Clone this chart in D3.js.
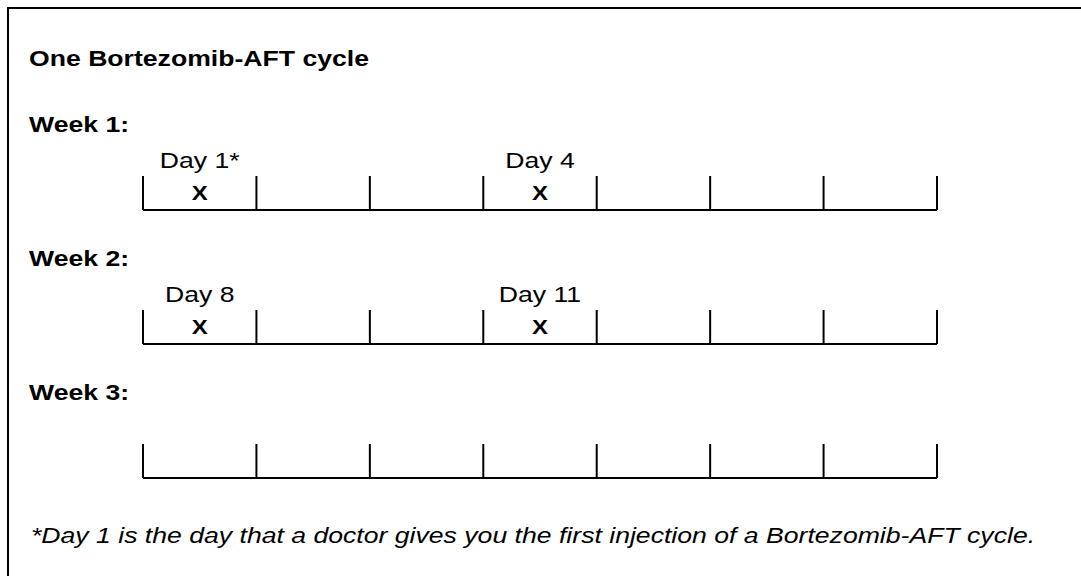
<!DOCTYPE html>
<html>
<head>
<meta charset="utf-8">
<script src="https://cdn.jsdelivr.net/npm/d3@7"></script>
<style>
  html, body { margin: 0; padding: 0; background: #fff; }
  svg { display: block; }
  text { font-family: "Liberation Sans", Arial, sans-serif; fill: #000; }
</style>
</head>
<body>
<svg id="chart" width="1081" height="576"></svg>
<script>
// ---- data ----
const title = "One Bortezomib-AFT cycle";
const weeks = ["Week 1:", "Week 2:", "Week 3:"];
const weekIndex = [0, 1, 2];
const dayOfWeek = [1, 2, 3, 4, 5, 6, 7];
const injectionDays = [1, 4, 8, 11];
const footnoteDays = [1];
const footnote = "*Day 1 is the day that a doctor gives you the first injection of a Bortezomib-AFT cycle.";

// ---- layout ----
const svg = d3.select("#chart");

// border (only top and left edges fall inside the picture)
svg.append("rect")
  .attr("x", 8).attr("y", 8).attr("width", 1200).attr("height", 700)
  .attr("fill", "none").attr("stroke", "#000").attr("stroke-width", 2);

const x = d3.scaleLinear().domain([0, dayOfWeek.length]).range([143, 937]);
const y = d3.scaleLinear().domain([0, 2]).range([210, 478]);
const tickH = 34;
const FS = 22;      // glyph height
const SX = 1.21;    // horizontal stretch of the source picture

function place(sel, px, py) {
  return sel.attr("transform", (d, i) => {
    const X = typeof px === "function" ? px(d, i) : px;
    const Y = typeof py === "function" ? py(d, i) : py;
    return `translate(${X},${Y}) scale(${SX},1)`;
  });
}

place(svg.append("text"), 29, 66)
  .attr("font-size", FS).attr("font-weight", "bold")
  .text(title);

const g = svg.selectAll("g.week").data(weekIndex).join("g").attr("class", "week");

place(g.append("text"), 29, d => y(d) - 78)
  .attr("font-size", FS).attr("font-weight", "bold")
  .text(d => weeks[d]);

g.append("line")
  .attr("x1", x(0)).attr("x2", x(dayOfWeek.length))
  .attr("y1", d => y(d)).attr("y2", d => y(d))
  .attr("stroke", "#000").attr("stroke-width", 2);

g.selectAll("line.tick").data(d => d3.range(0, dayOfWeek.length + 1).map(i => ({w: d, i})))
  .join("line").attr("class", "tick")
  .attr("x1", t => x(t.i)).attr("x2", t => x(t.i))
  .attr("y1", t => y(t.w) - tickH).attr("y2", t => y(t.w))
  .attr("stroke", "#000").attr("stroke-width", 2);

g.each(function(w) {
  const sel = d3.select(this);
  const days = injectionDays.filter(d => Math.floor((d - 1) / 7) === w);
  place(sel.selectAll("text.day").data(days).join("text").attr("class", "day"),
        d => x(((d - 1) % 7) + 0.5), y(w) - 42)
    .attr("font-size", FS).attr("text-anchor", "middle")
    .text(d => "Day " + d + (footnoteDays.includes(d) ? "*" : ""));
  place(sel.selectAll("text.mark").data(days).join("text").attr("class", "mark"),
        d => x(((d - 1) % 7) + 0.5), y(w) - 10)
    .attr("font-size", FS * 0.9).attr("font-weight", "bold").attr("text-anchor", "middle")
    .text("X");
});

place(svg.append("text"), 31, 543)
  .attr("font-size", FS).attr("font-style", "italic")
  .text(footnote);
</script>
</body>
</html>
